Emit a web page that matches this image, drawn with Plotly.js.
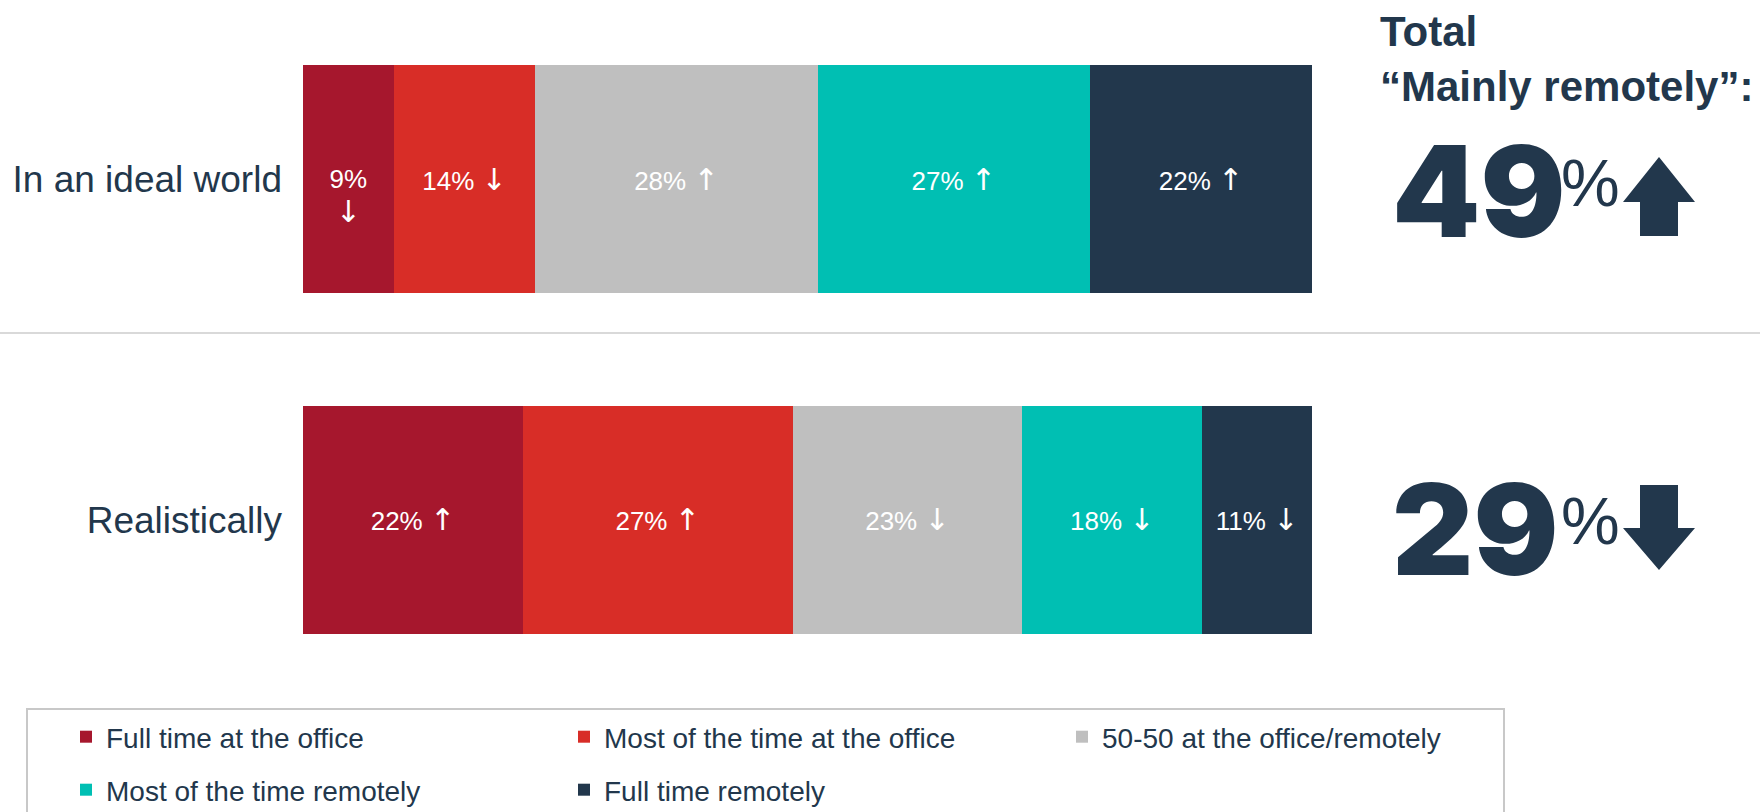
<!DOCTYPE html>
<html><head><meta charset="utf-8">
<script src="https://cdn.plot.ly/plotly-3.0.1.min.js"></script>
<style>html,body{margin:0;padding:0;background:#fff;} #chart{width:1760px;height:812px;}</style>
</head><body><div id="chart"></div>
<script>
// ---- data ----
const categories = ['In an ideal world', 'Realistically'];
const seriesNames = ['Full time at the office', 'Most of the time at the office', '50-50 at the office/remotely', 'Most of the time remotely', 'Full time remotely'];
const fullTimeOffice = [9, 22];
const mostlyOffice = [14, 27];
const fiftyFifty = [28, 23];
const mostlyRemote = [27, 18];
const fullTimeRemote = [22, 11];
// direction of change shown next to each value
const fullTimeOfficeTrend = ['down', 'up'];
const mostlyOfficeTrend = ['down', 'up'];
const fiftyFiftyTrend = ['up', 'down'];
const mostlyRemoteTrend = ['up', 'down'];
const fullTimeRemoteTrend = ['up', 'down'];
const totalRemoteTrend = ['up', 'down'];
const totalTitle = 'Total<br>\u201cMainly remotely\u201d:';

// ---- style ----
const W = 1760, H = 812;
const NAVY = '#22374c';
const colors = ['#a6172d', '#d82d27', '#bfbfbf', '#00bfb3', '#22374c'];
const FONT = 'Arial, "Liberation Sans", sans-serif';
const arrowChar = {up: '\u2191', down: '\u2193'};

const values = [fullTimeOffice, mostlyOffice, fiftyFifty, mostlyRemote, fullTimeRemote];
const trends = [fullTimeOfficeTrend, mostlyOfficeTrend, fiftyFiftyTrend, mostlyRemoteTrend, fullTimeRemoteTrend];

function label(v, t) {
  const arrow = '<span style="font-family:DejaVu Sans;font-size:30px">' + arrowChar[t] + '</span>';
  return v < 10 ? '\u00a0<br>' + v + '%<br>' + arrow : v + '% ' + arrow;
}

const traces = values.map((vals, i) => ({
  type: 'bar',
  orientation: 'h',
  name: seriesNames[i],
  y: categories,
  x: vals,
  text: vals.map((v, j) => label(v, trends[i][j])),
  textposition: 'inside',
  insidetextanchor: 'middle',
  textangle: 0,
  constraintext: 'none',
  textfont: {family: FONT, size: 26, color: '#ffffff'},
  marker: {color: colors[i], line: {width: 0}},
  hoverinfo: 'skip',
  legend: i < 3 ? 'legend' : 'legend2'
}));

// paper-coordinate helpers for decoration
const px = x => x / W;
const py = y => 1 - y / H;
function path(pts) {
  return 'M' + pts.map(p => px(p[0]) + ',' + py(p[1])).join('L') + 'Z';
}

const remoteTotals = categories.map((c, j) => mostlyRemote[j] + fullTimeRemote[j]);
const bigY = [190, 528];
const shapes = [
  {type: 'line', xref: 'paper', yref: 'paper', x0: 0, x1: 1, y0: py(333), y1: py(333), line: {color: '#d9d9d9', width: 2}},
  {type: 'rect', xref: 'paper', yref: 'paper', x0: px(27), x1: px(1504), y0: -0.1, y1: py(709), line: {color: '#c8c8c8', width: 2}, fillcolor: 'rgba(0,0,0,0)'}
];
const annotations = [
  {xref: 'paper', yref: 'paper', x: px(1378), y: py(6), xanchor: 'left', yanchor: 'top', align: 'left', showarrow: false,
   text: '<b>' + totalTitle + '</b>', font: {family: FONT, size: 42, color: NAVY}}
];
remoteTotals.forEach((tot, j) => {
  const cy = bigY[j];
  annotations.push({xref: 'paper', yref: 'paper', x: px(1390), y: py(cy + 1), xanchor: 'left', yanchor: 'middle', showarrow: false,
    text: String(tot), font: {family: 'Inter, Roboto, sans-serif', size: 126, weight: 900, color: NAVY}});
  annotations.push({xref: 'paper', yref: 'paper', x: px(1559), y: py(cy - 7), xanchor: 'left', yanchor: 'middle', showarrow: false,
    text: '%', font: {family: FONT, size: 66, color: NAVY}});
  if (totalRemoteTrend[j] === 'up') {
    shapes.push({type: 'path', xref: 'paper', yref: 'paper', fillcolor: NAVY, line: {width: 0},
      path: path([[1640, cy + 46], [1640, cy + 12], [1623, cy + 12], [1659, cy - 33], [1695, cy + 12], [1678, cy + 12], [1678, cy + 46]])});
  } else {
    shapes.push({type: 'path', xref: 'paper', yref: 'paper', fillcolor: NAVY, line: {width: 0},
      path: path([[1640, cy - 43], [1678, cy - 43], [1678, cy], [1695, cy], [1659, cy + 42], [1623, cy], [1640, cy]])});
  }
});

const legendBase = {
  orientation: 'h', xanchor: 'left', yanchor: 'top', x: px(66),
  entrywidth: 453, entrywidthmode: 'pixels', traceorder: 'normal',
  font: {family: FONT, size: 28, color: NAVY}, bgcolor: 'rgba(0,0,0,0)', borderwidth: 0,
  itemclick: false, itemdoubleclick: false
};

const layout = {
  width: W, height: H,
  margin: {l: 0, r: 0, t: 0, b: 0, pad: 0, autoexpand: false},
  paper_bgcolor: '#ffffff', plot_bgcolor: '#ffffff',
  barmode: 'stack', barnorm: 'percent', bargap: 0.33,
  font: {family: FONT, color: NAVY},
  xaxis: {domain: [px(303), px(1312)], range: [0, 100], visible: false, fixedrange: true},
  yaxis: {domain: [py(690), py(9)], range: [-0.5, 1.5], categoryorder: 'array', categoryarray: categories.slice().reverse(),
          showgrid: false, zeroline: false, showline: false, ticks: '', ticklabelstandoff: 20,
          tickfont: {family: FONT, size: 37, color: NAVY}, fixedrange: true},
  showlegend: true,
  legend: Object.assign({}, legendBase, {y: py(712)}),
  legend2: Object.assign({}, legendBase, {y: py(765)}),
  shapes: shapes,
  annotations: annotations
};

Plotly.newPlot('chart', traces, layout, {displayModeBar: false, staticPlot: true});
</script>
</body></html>
